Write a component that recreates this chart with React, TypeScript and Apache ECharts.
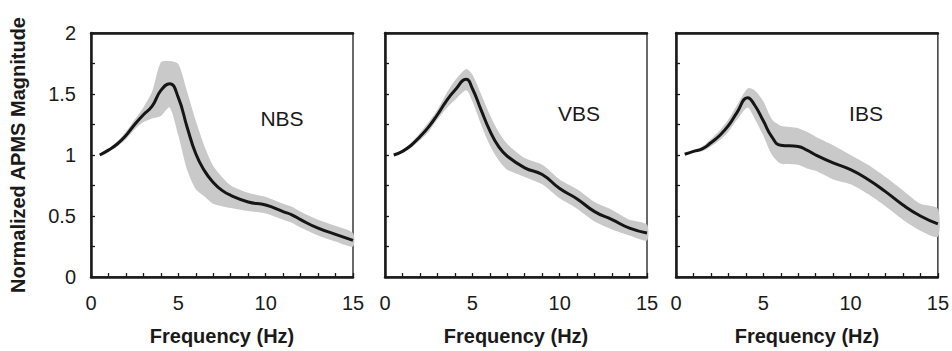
import React, { useEffect, useRef } from "react";
import * as echarts from "echarts";

// ---- data ----
const nbsFreq = [0.5, 1, 1.5, 2, 2.5, 3, 3.5, 4, 4.5, 5, 5.5, 6, 6.5, 7, 7.5, 8, 9, 10, 11, 11.5, 12, 13, 14, 15];
const nbsMean = [1.0, 1.04, 1.09, 1.16, 1.25, 1.33, 1.4, 1.53, 1.585, 1.47, 1.23, 1.01, 0.87, 0.775, 0.71, 0.67, 0.615, 0.59, 0.536, 0.51, 0.47, 0.4, 0.35, 0.3];
const nbsUpper = [1.0, 1.05, 1.11, 1.19, 1.29, 1.39, 1.52, 1.76, 1.77, 1.745, 1.52, 1.28, 1.07, 0.91, 0.82, 0.75, 0.69, 0.655, 0.6, 0.575, 0.535, 0.47, 0.42, 0.36];
const nbsLower = [1.0, 1.03, 1.07, 1.13, 1.21, 1.27, 1.3, 1.32, 1.39, 1.16, 0.88, 0.72, 0.66, 0.6, 0.58, 0.565, 0.54, 0.52, 0.47, 0.445, 0.405, 0.34, 0.29, 0.25];

const vbsFreq = [0.5, 1, 1.5, 2, 2.5, 3, 3.5, 4, 4.65, 5, 5.5, 6, 6.5, 7, 8, 9, 10, 11, 12, 13, 14, 15];
const vbsMean = [1.0, 1.03, 1.08, 1.15, 1.23, 1.33, 1.44, 1.53, 1.62, 1.545, 1.37, 1.2, 1.07, 0.99, 0.895, 0.84, 0.725, 0.64, 0.536, 0.47, 0.4, 0.36];
const vbsUpper = [1.0, 1.04, 1.1, 1.18, 1.27, 1.37, 1.5, 1.61, 1.705, 1.66, 1.5, 1.33, 1.19, 1.09, 0.975, 0.92, 0.8, 0.72, 0.615, 0.55, 0.47, 0.43];
const vbsLower = [1.0, 1.02, 1.06, 1.12, 1.19, 1.29, 1.38, 1.45, 1.53, 1.44, 1.25, 1.08, 0.96, 0.88, 0.82, 0.76, 0.645, 0.56, 0.455, 0.39, 0.34, 0.3];

const ibsFreq = [0.5, 1, 1.5, 2, 2.5, 3, 3.5, 4.1, 4.5, 5, 5.5, 6, 7, 7.5, 8, 9, 10, 11, 12, 13, 14, 15];
const ibsMean = [1.006, 1.03, 1.05, 1.1, 1.16, 1.24, 1.35, 1.47, 1.41, 1.28, 1.147, 1.08, 1.07, 1.04, 1.0, 0.935, 0.88, 0.8, 0.7, 0.59, 0.5, 0.435];
const ibsUpper = [1.006, 1.04, 1.07, 1.13, 1.2, 1.29, 1.41, 1.546, 1.53, 1.44, 1.29, 1.24, 1.22, 1.19, 1.15, 1.08, 1.0, 0.92, 0.82, 0.71, 0.6, 0.56];
const ibsLower = [1.006, 1.02, 1.03, 1.07, 1.12, 1.19, 1.29, 1.39, 1.3, 1.16, 1.0, 0.93, 0.92, 0.89, 0.87, 0.8, 0.76, 0.68, 0.58, 0.47, 0.38, 0.33];

const panelNames = ["NBS", "VBS", "IBS"];
const xTickLabels = [0, 5, 10, 15];
const yTickLabels = [0, 0.5, 1, 1.5, 2];
const xTitle = "Frequency (Hz)";
const yTitle = "Normalized APMS Magnitude";

export default function App() {
  const ref = useRef<HTMLDivElement>(null);

  useEffect(() => {
    const chart = echarts.init(ref.current!, null, { renderer: "svg" });

    const panels = [
      { f: nbsFreq, m: nbsMean, u: nbsUpper, l: nbsLower },
      { f: vbsFreq, m: vbsMean, u: vbsUpper, l: vbsLower },
      { f: ibsFreq, m: ibsMean, u: ibsUpper, l: ibsLower },
    ];
    const gridPos = [
      { left: 91, width: 262 },
      { left: 385, width: 262 },
      { left: 676, width: 263 },
    ];
    const labelPos = [
      { x: 282, y: 118 },
      { x: 579, y: 113 },
      { x: 866, y: 113 },
    ];
    const font = "'Liberation Sans', Arial, Helvetica, sans-serif";
    const ink = "#1a1a1a";

    const grid = gridPos.map((g) => ({
      left: g.left,
      width: g.width,
      top: 33,
      height: 251,
      show: true,
      borderColor: ink,
      borderWidth: 1.3,
      backgroundColor: "#fff",
    }));

    const xAxis: any[] = [];
    const yAxis: any[] = [];
    panels.forEach((_, i) => {
      xAxis.push({
        type: "value",
        gridIndex: i,
        min: 0,
        max: 15,
        interval: 1,
        z: 10,
        name: xTitle,
        nameLocation: "middle",
        nameGap: 49,
        nameTextStyle: { fontFamily: font, fontSize: 20, fontWeight: "bold", color: ink },
        axisLine: { show: true, lineStyle: { color: ink, width: 2.5 } },
        axisTick: { show: true, inside: true, length: 4, lineStyle: { color: ink, width: 1.3 } },
        axisLabel: {
          margin: 16,
          fontFamily: font,
          fontSize: 20,
          color: ink,
          formatter: (v: number) => (xTickLabels.includes(v) ? String(v) : ""),
        },
        splitLine: { show: false },
      });
      yAxis.push({
        type: "value",
        gridIndex: i,
        min: 0,
        max: 2,
        interval: 0.25,
        z: 10,
        name: i === 0 ? yTitle : "",
        nameLocation: "middle",
        nameRotate: 90,
        nameGap: 63,
        nameTextStyle: { fontFamily: font, fontSize: 20, fontWeight: "bold", color: ink },
        axisLine: { show: true, lineStyle: { color: ink, width: 2.5 } },
        axisTick: { show: true, inside: true, length: 4, lineStyle: { color: ink, width: 1.3 } },
        axisLabel: {
          show: i === 0,
          margin: 15,
          fontFamily: font,
          fontSize: 20,
          color: ink,
          formatter: (v: number) =>
            yTickLabels.some((t) => Math.abs(t - v) < 1e-6) ? String(v) : "",
        },
        splitLine: { show: false },
      });
    });
    // thick top frame line for each panel
    panels.forEach((_, i) => {
      xAxis.push({
        type: "value",
        gridIndex: i,
        position: "top",
        min: 0,
        max: 15,
        z: 10,
        axisLine: { show: true, lineStyle: { color: ink, width: 2.5 } },
        axisTick: { show: false },
        axisLabel: { show: false },
        splitLine: { show: false },
      });
    });

    const series: any[] = [];
    panels.forEach((p, i) => {
      // shaded band (mean ± SD) as one polygon through the axis scales
      series.push({
        type: "custom",
        xAxisIndex: i,
        yAxisIndex: i,
        silent: true,
        z: 1,
        data: [0],
        renderItem: (_params: any, api: any) => {
          const top = p.f.map((f, k) => api.coord([f, p.u[k]]));
          const bot = p.f.map((f, k) => api.coord([f, p.l[k]])).reverse();
          return {
            type: "polygon",
            shape: { points: top.concat(bot), smooth: 0.25 },
            style: { fill: "#c9c9c9", stroke: "none" },
          };
        },
      });
      series.push({
        type: "line",
        xAxisIndex: i,
        yAxisIndex: i,
        smooth: true,
        symbol: "none",
        lineStyle: { color: "#151515", width: 3 },
        data: p.f.map((f, k) => [f, p.m[k]]),
        z: 3,
      });
    });

    const graphic = panelNames.map((name, i) => ({
      type: "text",
      x: labelPos[i].x,
      y: labelPos[i].y,
      z: 10,
      style: {
        text: name,
        fontFamily: font,
        fontSize: 21,
        fill: ink,
        textAlign: "center",
        textVerticalAlign: "middle",
      },
    }));

    chart.setOption({
      animation: false,
      backgroundColor: "#fff",
      grid,
      xAxis,
      yAxis,
      series,
      graphic,
    });

    return () => chart.dispose();
  }, []);

  return (
    <div
      ref={ref}
      style={{ position: "fixed", left: 0, top: 0, width: 952, height: 351, background: "#fff" }}
    />
  );
}
